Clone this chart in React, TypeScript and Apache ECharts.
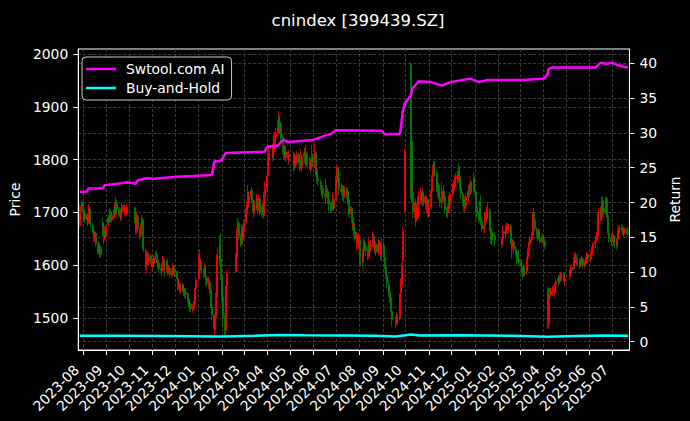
import React, { useEffect, useRef } from 'react';
import * as echarts from 'echarts';

const TITLE = 'cnindex [399439.SZ]';
const FIRST_DAY = '2023-07-28';
const LAST_DAY = '2025-07-22';
const AXIS_START = '2023-07-26';
const AXIS_END = '2025-07-24';

const HOLIDAYS = [
  '2023-09-29', '2023-10-02', '2023-10-03', '2023-10-04', '2023-10-05', '2023-10-06',
  '2024-01-01', '2024-02-09', '2024-02-12', '2024-02-13', '2024-02-14', '2024-02-15', '2024-02-16',
  '2024-04-04', '2024-04-05', '2024-05-01', '2024-05-02', '2024-05-03', '2024-06-10',
  '2024-09-16', '2024-09-17', '2024-10-01', '2024-10-02', '2024-10-03', '2024-10-04', '2024-10-07',
  '2025-01-01', '2025-01-28', '2025-01-29', '2025-01-30', '2025-01-31', '2025-02-03', '2025-02-04',
  '2025-04-04', '2025-05-01', '2025-05-02', '2025-05-05', '2025-06-02',
];

// [open, close, low, high] per trading day
const OHLC: number[][] = [
  // 2023-07
  [1675,1712,1670,1716],[1712,1718,1702,1724],
  // 2023-08
  [1716,1705,1698,1720],[1703,1690,1684,1708],[1688,1698,1682,1703],[1700,1688,1680,1704],
  [1686,1695,1679,1699],[1694,1680,1674,1697],[1682,1708,1678,1716],[1706,1700,1692,1712],[1700,1678,1672,1703],
  [1672,1670,1660,1680],[1670,1666,1655,1676],[1665,1652,1645,1668],[1650,1660,1644,1665],[1660,1640,1634,1663],
  [1638,1628,1620,1642],[1626,1640,1622,1646],[1640,1622,1615,1644],[1620,1632,1616,1638],[1634,1620,1614,1637],
  [1680,1662,1655,1690],[1660,1648,1640,1668],[1650,1668,1646,1674],[1666,1655,1650,1670],
  // 2023-09
  [1654,1672,1650,1676],
  [1676,1690,1672,1695],[1690,1684,1678,1696],[1684,1702,1680,1708],[1700,1688,1682,1704],[1686,1694,1680,1700],
  [1690,1700,1686,1706],[1700,1712,1696,1718],[1710,1696,1690,1714],[1696,1718,1692,1730],[1718,1706,1700,1724],
  [1705,1698,1690,1710],[1696,1705,1692,1710],[1704,1690,1684,1708],[1688,1700,1684,1705],[1700,1712,1696,1718],
  [1714,1702,1696,1716],[1700,1708,1694,1712],[1708,1698,1692,1712],[1698,1710,1694,1716],
  // 2023-10
  [1708,1685,1680,1712],[1686,1665,1658,1690],[1664,1690,1660,1696],[1690,1695,1684,1702],[1692,1668,1662,1695],
  [1666,1658,1648,1670],[1656,1675,1652,1680],[1675,1688,1670,1695],[1686,1660,1654,1690],[1658,1630,1625,1662],
  [1628,1600,1590,1632],[1598,1610,1585,1615],[1610,1622,1604,1628],[1620,1608,1600,1625],[1606,1618,1600,1624],
  [1618,1612,1602,1622],[1612,1604,1596,1616],
  // 2023-11
  [1604,1598,1590,1610],[1596,1606,1592,1612],[1604,1616,1600,1620],
  [1618,1622,1610,1628],[1620,1610,1604,1625],[1610,1600,1594,1614],[1598,1606,1592,1610],[1604,1594,1588,1608],
  [1594,1590,1580,1598],[1588,1600,1584,1604],[1602,1612,1598,1618],[1610,1598,1592,1614],[1598,1590,1578,1602],
  [1590,1604,1586,1608],[1606,1600,1594,1612],[1598,1588,1580,1602],[1586,1595,1582,1600],[1594,1582,1575,1597],
  [1580,1590,1576,1594],[1590,1598,1586,1604],[1598,1585,1580,1600],[1584,1592,1578,1596],
  // 2023-12
  [1592,1588,1580,1596],
  [1588,1575,1570,1590],[1574,1560,1552,1577],[1558,1566,1553,1572],[1565,1555,1548,1568],[1552,1558,1546,1562],
  [1556,1562,1550,1567],[1562,1550,1544,1565],[1548,1556,1542,1560],[1556,1545,1538,1558],[1544,1548,1536,1553],
  [1546,1535,1528,1549],[1536,1530,1522,1540],[1530,1520,1514,1534],[1518,1526,1512,1530],[1526,1518,1510,1530],
  [1516,1522,1510,1526],[1520,1528,1515,1533],[1526,1540,1522,1545],[1540,1556,1536,1562],[1556,1572,1552,1578],
  // 2024-01
  [1575,1615,1572,1622],[1612,1600,1592,1630],[1598,1606,1590,1612],[1604,1590,1584,1608],
  [1588,1585,1575,1594],[1584,1598,1578,1604],[1596,1580,1574,1600],[1580,1575,1562,1585],[1576,1565,1558,1580],
  [1562,1570,1555,1578],[1568,1555,1546,1574],[1554,1530,1524,1558],[1528,1520,1508,1534],[1520,1505,1496,1526],
  [1505,1480,1470,1508],[1478,1500,1468,1506],[1500,1540,1496,1548],[1540,1600,1536,1612],[1598,1620,1590,1634],
  [1622,1640,1600,1656],[1640,1615,1606,1660],[1612,1580,1572,1618],
  // 2024-02
  [1578,1540,1530,1582],[1540,1500,1484,1548],
  [1500,1478,1466,1510],[1476,1520,1468,1530],[1518,1560,1512,1570],[1560,1585,1552,1592],
  [1588,1600,1585,1622],[1600,1615,1594,1625],[1615,1660,1610,1670],[1660,1680,1652,1690],[1680,1655,1648,1686],
  [1654,1640,1634,1660],[1640,1670,1636,1675],[1672,1650,1640,1678],[1648,1665,1644,1670],
  // 2024-03
  [1664,1680,1660,1686],
  [1680,1700,1676,1708],[1698,1712,1690,1720],[1710,1735,1706,1752],[1735,1720,1712,1740],[1718,1730,1712,1736],
  [1730,1742,1724,1748],[1742,1725,1718,1746],[1724,1710,1700,1730],[1710,1700,1690,1714],[1700,1718,1696,1724],
  [1716,1725,1708,1735],[1724,1705,1698,1728],[1704,1715,1700,1720],[1714,1728,1710,1734],[1726,1700,1695,1730],
  [1698,1705,1690,1712],[1704,1712,1698,1718],[1712,1695,1688,1716],[1694,1730,1690,1738],[1728,1745,1722,1758],
  // 2024-04
  [1745,1770,1740,1780],[1770,1800,1765,1810],[1798,1815,1790,1828],
  [1816,1805,1796,1825],[1804,1830,1798,1847],[1830,1820,1810,1840],[1820,1845,1814,1852],[1842,1850,1830,1860],
  [1850,1865,1842,1875],[1862,1880,1850,1893],[1880,1860,1850,1885],[1858,1870,1850,1878],[1868,1840,1830,1872],
  [1842,1825,1810,1848],[1826,1810,1800,1830],[1808,1820,1800,1828],[1820,1805,1796,1825],[1804,1815,1798,1822],
  [1814,1800,1790,1818],[1798,1810,1792,1816],
  // 2024-05
  [1812,1800,1778,1815],[1800,1790,1780,1806],[1788,1805,1784,1812],[1806,1795,1786,1810],[1794,1810,1790,1816],
  [1810,1798,1790,1814],[1798,1790,1778,1802],[1788,1800,1782,1820],[1800,1785,1776,1804],[1784,1805,1780,1810],
  [1804,1812,1798,1822],[1812,1800,1792,1818],[1800,1795,1786,1828],[1794,1808,1788,1815],[1808,1790,1782,1812],
  [1788,1800,1780,1806],[1800,1785,1774,1804],[1784,1790,1776,1798],[1788,1805,1780,1828],[1804,1795,1786,1812],
  // 2024-06
  [1795,1815,1785,1834],[1812,1775,1770,1816],[1774,1780,1762,1790],[1780,1765,1755,1784],[1764,1760,1750,1772],
  [1758,1748,1742,1762],[1748,1740,1730,1752],[1738,1745,1728,1752],[1745,1735,1726,1748],
  [1735,1730,1720,1740],[1728,1745,1716,1764],[1745,1740,1730,1752],[1740,1725,1716,1744],[1724,1715,1702,1730],
  [1714,1705,1700,1718],[1704,1712,1700,1720],[1710,1720,1706,1738],[1720,1710,1704,1724],[1708,1725,1704,1732],
  // 2024-07
  [1726,1760,1722,1770],[1758,1785,1752,1790],[1784,1770,1762,1788],[1770,1758,1750,1776],[1766,1745,1733,1777],
  [1744,1740,1732,1752],[1740,1750,1735,1756],[1750,1730,1722,1752],[1728,1740,1720,1746],[1738,1745,1730,1750],
  [1744,1735,1726,1748],[1734,1740,1714,1746],[1740,1725,1718,1744],[1724,1700,1694,1728],[1698,1710,1690,1716],
  [1708,1690,1682,1712],[1690,1675,1666,1694],[1672,1680,1662,1686],[1680,1665,1655,1684],[1664,1650,1645,1672],
  [1642,1658,1630,1663],[1656,1640,1632,1660],[1638,1655,1630,1660],
  // 2024-08
  [1650,1625,1602,1654],[1624,1615,1600,1630],
  [1612,1605,1596,1618],[1606,1630,1604,1640],[1628,1645,1622,1651],[1644,1635,1626,1648],[1636,1628,1618,1640],
  [1626,1618,1610,1632],[1616,1642,1612,1651],[1640,1628,1620,1646],[1626,1635,1618,1642],[1634,1640,1626,1648],
  [1640,1655,1634,1663],[1654,1640,1632,1660],[1640,1630,1622,1645],[1628,1640,1620,1646],[1640,1625,1618,1644],
  [1624,1638,1618,1648],[1636,1645,1628,1650],[1644,1630,1620,1648],[1630,1620,1610,1634],[1620,1640,1607,1651],
  // 2024-09
  [1638,1628,1620,1644],[1628,1615,1608,1632],[1614,1600,1592,1618],[1600,1580,1574,1604],[1580,1566,1556,1584],
  [1564,1550,1540,1568],[1550,1540,1530,1556],[1540,1528,1518,1544],[1528,1512,1500,1532],[1512,1496,1484,1516],
  [1496,1490,1480,1504],[1490,1505,1486,1512],[1504,1500,1492,1508],
  [1500,1512,1496,1518],[1512,1545,1508,1550],[1548,1562,1540,1575],[1562,1600,1558,1605],[1608,1665,1604,1670],
  [1705,1815,1700,1822],
  // 2024-10
  [1980,1740,1725,1985],[1835,1725,1720,1840],[1722,1740,1710,1750],[1738,1700,1690,1742],
  [1690,1720,1672,1727],[1718,1690,1682,1724],[1688,1705,1682,1712],[1704,1695,1686,1710],[1694,1730,1690,1740],
  [1728,1735,1716,1746],[1734,1725,1714,1740],[1724,1740,1718,1746],[1738,1720,1712,1742],[1718,1730,1712,1736],
  [1730,1715,1705,1734],[1714,1725,1698,1730],[1724,1705,1692,1728],[1704,1700,1690,1712],
  // 2024-11
  [1698,1710,1692,1716],
  [1710,1740,1706,1746],[1740,1765,1736,1770],[1768,1780,1760,1790],[1780,1792,1772,1798],[1792,1775,1768,1796],
  [1772,1770,1760,1780],[1770,1740,1735,1775],[1738,1755,1728,1764],[1752,1730,1724,1756],[1728,1720,1710,1736],
  [1740,1725,1708,1758],[1722,1735,1716,1740],[1736,1740,1728,1748],[1740,1732,1722,1752],[1730,1705,1700,1738],
  [1702,1700,1690,1710],[1698,1710,1690,1716],[1708,1725,1700,1733],[1724,1715,1708,1730],[1714,1735,1710,1740],
  // 2024-12
  [1736,1745,1730,1752],[1744,1755,1738,1760],[1754,1750,1740,1760],[1748,1765,1742,1771],[1764,1770,1755,1775],
  [1766,1772,1755,1778],[1788,1762,1755,1792],[1760,1770,1752,1775],[1768,1750,1742,1772],[1748,1735,1727,1752],
  [1734,1720,1712,1738],[1720,1710,1702,1726],[1708,1725,1701,1730],[1724,1715,1708,1730],[1714,1730,1708,1736],
  [1728,1740,1720,1752],[1738,1735,1726,1745],[1734,1750,1728,1756],[1748,1755,1740,1764],[1756,1745,1738,1760],
  [1746,1765,1740,1777],[1764,1740,1733,1768],
  // 2025-01
  [1738,1710,1700,1742],[1710,1695,1686,1714],
  [1694,1688,1680,1702],[1688,1712,1684,1722],[1720,1690,1682,1733],[1690,1685,1676,1696],[1684,1668,1663,1690],
  [1668,1675,1660,1682],[1676,1695,1672,1700],[1694,1690,1682,1700],[1688,1700,1682,1712],[1698,1705,1690,1720],
  [1704,1680,1676,1708],[1680,1665,1660,1685],[1664,1650,1640,1668],[1650,1660,1638,1670],[1660,1655,1646,1664],
  [1656,1648,1635,1663],
  // 2025-02
  [1644,1640,1632,1650],[1640,1650,1636,1656],[1650,1665,1646,1676],
  [1664,1660,1650,1670],[1660,1670,1654,1676],[1668,1675,1660,1680],[1676,1668,1660,1680],[1666,1672,1660,1678],
  [1674,1655,1648,1678],[1654,1640,1630,1658],[1640,1635,1613,1651],[1636,1645,1628,1650],[1644,1630,1622,1648],
  [1630,1625,1615,1636],[1626,1615,1600,1630],[1614,1620,1606,1626],[1622,1610,1604,1630],[1612,1605,1598,1616],
  // 2025-03
  [1606,1600,1590,1612],[1598,1590,1582,1604],[1590,1580,1575,1596],[1582,1595,1578,1602],[1596,1588,1580,1600],
  [1588,1595,1582,1602],[1596,1615,1590,1620],[1614,1625,1608,1632],[1626,1640,1620,1644],[1640,1650,1636,1656],
  [1650,1655,1642,1663],[1656,1680,1652,1686],[1680,1700,1676,1708],[1700,1685,1676,1704],[1686,1670,1664,1690],
  [1668,1660,1651,1672],[1660,1655,1646,1666],[1654,1665,1650,1670],[1664,1650,1644,1668],[1650,1645,1640,1656],
  [1644,1655,1640,1660],
  // 2025-04
  [1654,1650,1644,1660],[1650,1645,1636,1657],[1644,1635,1630,1648],
  [1556,1495,1480,1560],[1490,1525,1480,1530],[1520,1540,1505,1545],[1556,1545,1531,1558],[1544,1550,1538,1556],
  [1550,1555,1542,1562],[1556,1548,1540,1560],[1548,1560,1542,1565],[1560,1565,1552,1570],[1564,1570,1556,1575],
  [1570,1575,1562,1580],[1576,1568,1560,1580],[1570,1580,1564,1584],[1580,1575,1568,1584],[1574,1585,1570,1588],
  [1584,1578,1570,1586],[1578,1570,1562,1582],[1570,1575,1562,1580],
  // 2025-05
  [1578,1585,1572,1590],[1586,1590,1580,1598],[1590,1595,1584,1600],[1596,1592,1584,1600],
  [1594,1610,1590,1616],[1610,1620,1604,1625],[1620,1612,1605,1624],[1612,1605,1598,1615],[1604,1608,1598,1614],
  [1608,1600,1594,1613],[1600,1610,1596,1614],[1610,1605,1598,1612],[1604,1612,1598,1618],[1612,1600,1594,1616],
  [1600,1605,1594,1610],[1604,1610,1600,1616],[1610,1615,1604,1622],[1614,1620,1608,1625],[1620,1612,1604,1624],
  // 2025-06
  [1612,1620,1606,1626],[1620,1630,1616,1634],[1630,1635,1622,1640],[1634,1640,1626,1644],
  [1640,1645,1632,1650],[1644,1650,1632,1657],[1650,1655,1646,1663],[1654,1660,1648,1666],[1660,1700,1656,1708],
  [1698,1705,1682,1712],[1706,1690,1684,1712],[1692,1720,1688,1730],[1722,1710,1701,1730],[1708,1700,1690,1716],
  [1700,1725,1695,1730],[1726,1715,1706,1730],[1714,1690,1684,1718],[1690,1660,1654,1694],[1660,1650,1642,1664],
  [1650,1645,1638,1656],
  // 2025-07
  [1646,1650,1638,1660],[1650,1655,1644,1663],[1656,1645,1636,1658],[1646,1640,1632,1650],
  [1640,1638,1630,1646],[1638,1650,1634,1656],[1650,1665,1646,1670],[1664,1670,1656,1676],[1670,1668,1660,1676],
  [1668,1672,1662,1678],[1672,1660,1656,1676],[1660,1665,1654,1670],[1664,1662,1656,1668],[1662,1668,1658,1672],
  [1668,1665,1658,1672],[1664,1662,1656,1670],
];

// Strategy cumulative return (right axis), read at turning points
const STRATEGY: [string, number][] = [
  ['2023-07-28', 21.55], ['2023-08-07', 21.6], ['2023-08-08', 22.0], ['2023-08-21', 22.0],
  ['2023-08-28', 22.1], ['2023-08-30', 22.5], ['2023-09-19', 22.75], ['2023-09-28', 22.9],
  ['2023-10-10', 22.7], ['2023-10-13', 23.2], ['2023-10-24', 23.5], ['2023-11-02', 23.4],
  ['2023-12-04', 23.7], ['2023-12-25', 23.8], ['2024-01-19', 23.95], ['2024-01-22', 25.9],
  ['2024-01-31', 26.0], ['2024-02-06', 27.1], ['2024-03-28', 27.3], ['2024-04-01', 28.0],
  ['2024-04-15', 28.2], ['2024-04-22', 29.0], ['2024-04-29', 28.7], ['2024-05-31', 29.0],
  ['2024-06-25', 29.9], ['2024-07-01', 30.4], ['2024-08-30', 30.3], ['2024-09-04', 29.8],
  ['2024-09-23', 29.9], ['2024-09-24', 30.2], ['2024-09-25', 31.0], ['2024-09-26', 32.0],
  ['2024-09-27', 33.0], ['2024-09-30', 34.3], ['2024-10-08', 35.4], ['2024-10-10', 36.4],
  ['2024-10-15', 37.0], ['2024-10-18', 37.4], ['2024-10-25', 37.4], ['2024-11-04', 37.3],
  ['2024-11-18', 36.8], ['2024-11-29', 37.3], ['2024-12-25', 37.8], ['2025-01-06', 37.3],
  ['2025-01-17', 37.6], ['2025-03-05', 37.6], ['2025-03-31', 37.8], ['2025-04-03', 37.9],
  ['2025-04-07', 38.5], ['2025-04-08', 39.2], ['2025-04-14', 39.4], ['2025-06-09', 39.4],
  ['2025-06-13', 39.8], ['2025-06-16', 40.1], ['2025-06-24', 39.9], ['2025-07-01', 40.1],
  ['2025-07-07', 39.8], ['2025-07-16', 39.5], ['2025-07-22', 39.4],
];

// Buy-and-hold (right axis)
const BUY_HOLD: [string, number][] = [
  ['2023-07-28', 0.86], ['2023-09-14', 0.87], ['2023-11-15', 0.82], ['2023-12-22', 0.78],
  ['2024-01-22', 0.74], ['2024-02-05', 0.74], ['2024-03-15', 0.86], ['2024-04-16', 0.96],
  ['2024-05-20', 0.92], ['2024-07-10', 0.89], ['2024-08-20', 0.84], ['2024-09-18', 0.76],
  ['2024-10-08', 1.05], ['2024-10-20', 0.90], ['2024-12-10', 0.92], ['2025-02-20', 0.86],
  ['2025-04-07', 0.72], ['2025-05-15', 0.82], ['2025-06-20', 0.88], ['2025-07-22', 0.86],
];

const MONTH_TICKS = [
  '2023-08', '2023-09', '2023-10', '2023-11', '2023-12', '2024-01', '2024-02', '2024-03',
  '2024-04', '2024-05', '2024-06', '2024-07', '2024-08', '2024-09', '2024-10', '2024-11',
  '2024-12', '2025-01', '2025-02', '2025-03', '2025-04', '2025-05', '2025-06', '2025-07',
];
const PRICE_TICKS = [1500, 1600, 1700, 1800, 1900, 2000];
const RETURN_TICKS = [0, 5, 10, 15, 20, 25, 30, 35, 40];

const FONT = 'DejaVu Sans';
const DAY = 86400000;

function utc(s: string): number {
  const p = s.split('-').map(Number);
  return Date.UTC(p[0], p[1] - 1, p[2] || 1);
}

function tradingDays(): number[] {
  const hol = new Set(HOLIDAYS);
  const out: number[] = [];
  const end = utc(LAST_DAY);
  for (let t = utc(FIRST_DAY); t <= end; t += DAY) {
    const d = new Date(t);
    const wd = d.getUTCDay();
    const s = d.toISOString().slice(0, 10);
    if (wd !== 0 && wd !== 6 && !hol.has(s)) out.push(t);
  }
  return out;
}

function fmtMonth(v: number): string {
  const d = new Date(v);
  const m = d.getUTCMonth() + 1;
  return d.getUTCFullYear() + '-' + (m < 10 ? '0' + m : '' + m);
}

export default function App() {
  const ref = useRef<HTMLDivElement>(null);

  useEffect(() => {
    document.body.style.margin = '0';
    document.body.style.background = '#000';
    if (!ref.current) return;
    const chart = echarts.init(ref.current, undefined, { renderer: 'svg' });

    const days = tradingDays();
    const n = Math.min(days.length, OHLC.length);
    const candles = [];
    for (let i = 0; i < n; i++) {
      const r = OHLC[i];
      candles.push([days[i], r[0], r[1], Math.min(r[2], r[0], r[1]), Math.max(r[3], r[0], r[1])]);
    }
    const monthTicks = MONTH_TICKS.map(utc);
    const strat = STRATEGY.map(([d, v]) => [utc(d), v]);
    const bh = BUY_HOLD.map(([d, v]) => [utc(d), v]);

    const gridLine = { show: true, lineStyle: { color: '#4a4a4a', type: [3, 2], width: 0.8 } };
    const axisText = { color: '#fff', fontSize: 13.9, fontFamily: FONT };

    chart.setOption({
      animation: false,
      backgroundColor: '#000',
      title: {
        text: TITLE,
        left: 353,
        top: 7,
        textAlign: 'center',
        textStyle: { color: '#fff', fontSize: 16.5, fontWeight: 'normal', fontFamily: FONT },
      },
      grid: {
        left: 75, right: 58, top: 49, bottom: 71,
        show: true, borderColor: '#fff', borderWidth: 1, backgroundColor: 'transparent',
      },
      legend: {
        left: 82, top: 57,
        orient: 'vertical',
        data: ['Swtool.com AI', 'Buy-and-Hold'],
        icon: 'rect',
        itemWidth: 30, itemHeight: 2.5, itemGap: 5,
        backgroundColor: '#000',
        borderColor: '#cccccc', borderWidth: 1, borderRadius: 4,
        padding: [5, 7, 5, 4],
        textStyle: { color: '#fff', fontSize: 13.9, fontFamily: FONT, padding: [0, 0, 0, 5] },
        z: 10,
      },
      xAxis: {
        type: 'value',
        min: utc(AXIS_START),
        max: utc(AXIS_END),
        axisLine: { show: true, onZero: false, lineStyle: { color: '#fff' } },
        axisTick: { show: true, customValues: monthTicks, length: 5, lineStyle: { color: '#fff' } },
        axisLabel: {
          ...axisText,
          customValues: monthTicks,
          rotate: 45,
          margin: 11,
          padding: [0, 9, 0, 0],
          formatter: (v: number) => fmtMonth(v),
        },
        splitLine: gridLine,
      },
      yAxis: [
        {
          type: 'value',
          position: 'left',
          min: 1439.4, max: 2009.5,
          name: 'Price', nameLocation: 'middle', nameGap: 50,
          nameTextStyle: { ...axisText },
          axisLine: { show: true, onZero: false, lineStyle: { color: '#fff' } },
          axisTick: { show: true, customValues: PRICE_TICKS, length: 5, lineStyle: { color: '#fff' } },
          axisLabel: { ...axisText, customValues: PRICE_TICKS, margin: 10, formatter: (v: number) => String(v) },
          splitLine: gridLine,
        },
        {
          type: 'value',
          position: 'right',
          min: -1.19, max: 42.06,
          name: 'Return', nameLocation: 'middle', nameGap: 34,
          nameTextStyle: { ...axisText },
          axisLine: { show: true, onZero: false, lineStyle: { color: '#fff' } },
          axisTick: { show: true, customValues: RETURN_TICKS, length: 5, lineStyle: { color: '#fff' } },
          axisLabel: { ...axisText, customValues: RETURN_TICKS, margin: 10, formatter: (v: number) => String(v) },
          splitLine: gridLine,
        },
      ],
      series: [
        {
          type: 'candlestick',
          name: 'Price',
          xAxisIndex: 0,
          yAxisIndex: 0,
          data: candles,
          barWidth: 1.5,
          itemStyle: {
            color: '#ff0000', color0: '#008000',
            borderColor: '#ff0000', borderColor0: '#008000',
            borderWidth: 0.8,
          },
          z: 2,
        },
        {
          type: 'line',
          name: 'Swtool.com AI',
          xAxisIndex: 0,
          yAxisIndex: 1,
          data: strat,
          symbol: 'none',
          lineStyle: { color: '#ff00ff', width: 2.5 },
          itemStyle: { color: '#ff00ff' },
          z: 3,
        },
        {
          type: 'line',
          name: 'Buy-and-Hold',
          xAxisIndex: 0,
          yAxisIndex: 1,
          data: bh,
          symbol: 'none',
          lineStyle: { color: '#00ffff', width: 2.5 },
          itemStyle: { color: '#00ffff' },
          z: 3,
        },
      ],
    });

    return () => chart.dispose();
  }, []);

  return (
    <div
      ref={ref}
      style={{ position: 'fixed', left: 0, top: 0, width: 690, height: 421, background: '#000' }}
    />
  );
}
